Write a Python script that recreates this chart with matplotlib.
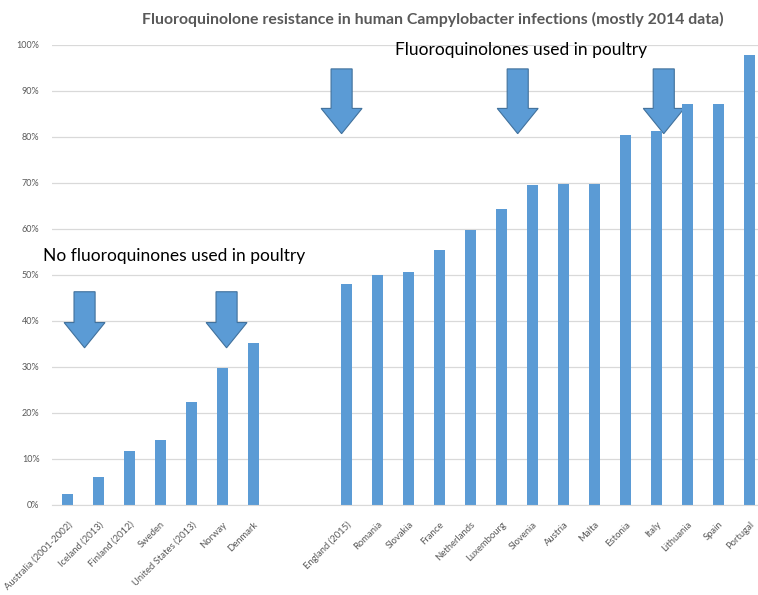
import matplotlib
matplotlib.use('Agg')
import matplotlib.pyplot as plt
from matplotlib.patches import FancyArrow
from matplotlib.ticker import FuncFormatter

# Data (percent resistant); two empty slots separate the groups
countries = ['Australia (2001-2002)', 'Iceland (2013)', 'Finland (2012)', 'Sweden',
             'United States (2013)', 'Norway', 'Denmark', '', '',
             'England (2015)', 'Romania', 'Slovakia', 'France', 'Netherlands',
             'Luxembourg', 'Slovenia', 'Austria', 'Malta', 'Estonia', 'Italy',
             'Lithuania', 'Spain', 'Portugal']
resistance = [2.2, 6.0, 11.7, 14.1, 22.4, 29.7, 35.1, None, None,
              48.0, 50.0, 50.7, 55.4, 59.8, 64.3, 69.5, 69.8, 69.8, 80.5, 81.2,
              87.2, 87.2, 97.8]

# Arrow annotations: (x category position, top %, tip %)
arrows_x = [0.55, 5.13, 8.84, 14.52, 19.23]
arrows_top = [46.3, 46.3, 94.8, 94.8, 94.8]
arrows_tip = [34.1, 34.1, 80.7, 80.7, 80.7]

BAR = '#5B9BD5'
EDGE = '#41719C'
GREY = '#595959'
FONT = ['Lato', 'DejaVu Sans']

plt.rcParams['font.family'] = FONT

fig = plt.figure(figsize=(7.58, 5.95), dpi=100)
left = 52 / 758
ax = fig.add_axes([left, 1 - 504.5 / 595, 1 - left, (504.5 - 45) / 595])

xs = [i for i, v in enumerate(resistance) if v is not None]
vals = [v for v in resistance if v is not None]
ax.bar(xs, vals, width=0.34, color=BAR, zorder=2)

ax.set_xlim(-0.5, 22.27)
ax.set_ylim(0, 100)
ax.set_yticks(range(0, 101, 10))
ax.yaxis.set_major_formatter(FuncFormatter(lambda v, p: f'{v:.0f}%'))
ax.set_xticks(range(len(countries)))
ax.set_xticklabels(countries, rotation=45, ha='right', rotation_mode='anchor',
                   fontsize=6.8, color=GREY)
ax.tick_params(axis='y', labelsize=6.5, colors=GREY, length=0, pad=9)
ax.tick_params(axis='x', length=0, pad=11)
ax.grid(axis='y', color='#D9D9D9', linewidth=0.9, zorder=0)
ax.set_axisbelow(True)
for s in ['top', 'right', 'left']:
    ax.spines[s].set_visible(False)
ax.spines['bottom'].set_color('#D9D9D9')

# block arrows
for x, top, tip in zip(arrows_x, arrows_top, arrows_tip):
    ax.add_patch(FancyArrow(x, top, 0, tip - top, width=0.68, head_width=1.32,
                            head_length=5.5, length_includes_head=True,
                            facecolor=BAR, edgecolor=EDGE, linewidth=0.8, zorder=1))

ax.text(-0.78, 53.0, 'No fluoroquinones used in poultry', fontsize=12.5,
        color='black', ha='left', va='baseline', zorder=5)
ax.text(10.55, 97.9, 'Fluoroquinolones used in poultry', fontsize=12.5,
        color='black', ha='left', va='baseline', zorder=5)

fig.text(0.571, 0.968, 'Fluoroquinolone resistance in human Campylobacter infections (mostly 2014 data)',
         fontsize=11.4, fontweight='bold', color=GREY, ha='center', va='center')

fig.savefig('out.png', dpi=100)
